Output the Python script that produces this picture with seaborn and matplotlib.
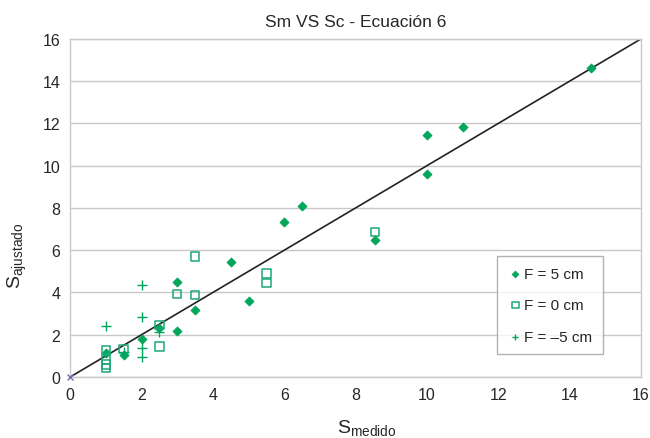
import numpy as np
import pandas as pd
import matplotlib
matplotlib.use("Agg")
import matplotlib.pyplot as plt
import seaborn as sns

# F = 5 cm
x_f5 = [1, 1.5, 2, 2.5, 3, 3, 3.5, 4.5, 5, 6, 6.5, 8.55, 10, 10, 11, 14.6]
y_f5 = [1.15, 1.05, 1.82, 2.3, 2.17, 4.5, 3.15, 5.43, 3.6, 7.35, 8.07, 6.46, 9.59, 11.46, 11.85, 14.62]

# F = 0 cm
x_f0 = [1, 1, 1, 1, 1.5, 2.5, 2.5, 3, 3.5, 3.5, 5.5, 5.5, 8.55]
y_f0 = [1.27, 0.82, 0.58, 0.42, 1.32, 2.45, 1.44, 3.93, 5.7, 3.87, 4.91, 4.44, 6.86]

# F = -5 cm
x_fm5 = [1, 1.5, 2, 2, 2, 2, 2.5]
y_fm5 = [2.42, 1.18, 4.37, 2.84, 1.35, 0.93, 2.14]

linea = [0, 16]
verde = "#00a65a"
verde_sq = "#1aa878"

sns.set_style("white")
plt.rcParams["font.family"] = ["Liberation Sans", "DejaVu Sans"]

fig = plt.figure(figsize=(6.5, 4.39), dpi=100)
ax = fig.add_axes([0.108, 0.139, 0.878, 0.770])

# linea 1:1
ax.plot(linea, linea, color="#222222", lw=1.2, zorder=2)
ax.plot([0], [0], marker="x", color="#7070b0", ms=5, mew=1, zorder=5, clip_on=False)

sns.scatterplot(x=x_f5, y=y_f5, ax=ax, marker="D", s=22, color=verde,
                edgecolor=verde, linewidth=0.5, label="F = 5 cm", zorder=4)
sns.scatterplot(x=x_f0, y=y_f0, ax=ax, marker="s", s=38, facecolor="none",
                edgecolor=verde_sq, linewidth=1.1, label="F = 0 cm", zorder=4)
sns.scatterplot(x=x_fm5, y=y_fm5, ax=ax, marker="+", s=45, color=verde,
                linewidth=1.0, label="F = \u20135 cm", zorder=4)

ax.set_xlim(0, 16)
ax.set_ylim(0, 16)
ax.set_xticks(range(0, 17, 2))
ax.set_yticks(range(0, 17, 2))
ax.yaxis.grid(True, color="#c8c8c8", lw=1)
ax.xaxis.grid(False)
for s in ax.spines.values():
    s.set_color("#c8c8c8")
    s.set_linewidth(1)
ax.tick_params(axis="both", length=0, labelsize=11.5, pad=7)

ax.set_title("Sm VS Sc - Ecuación 6", fontsize=12.5, pad=9)
ax.set_xlabel("S$_{\\mathregular{medido}}$", fontsize=14)
ax.set_ylabel("S$_{\\mathregular{ajustado}}$", fontsize=14)
ax.xaxis.set_label_coords(0.52, -0.12)
ax.yaxis.set_label_coords(-0.072, 0.36)

leg = ax.legend(loc="upper left", bbox_to_anchor=(0.748, 0.358), frameon=True,
                fancybox=False, fontsize=11, labelspacing=1.15, handletextpad=0.05,
                handlelength=1.0, borderpad=0.7, borderaxespad=0, markerscale=0.75)
leg.get_frame().set_edgecolor("#a0a0a0")
leg.get_frame().set_linewidth(1)

fig.savefig("out.png", dpi=100)
